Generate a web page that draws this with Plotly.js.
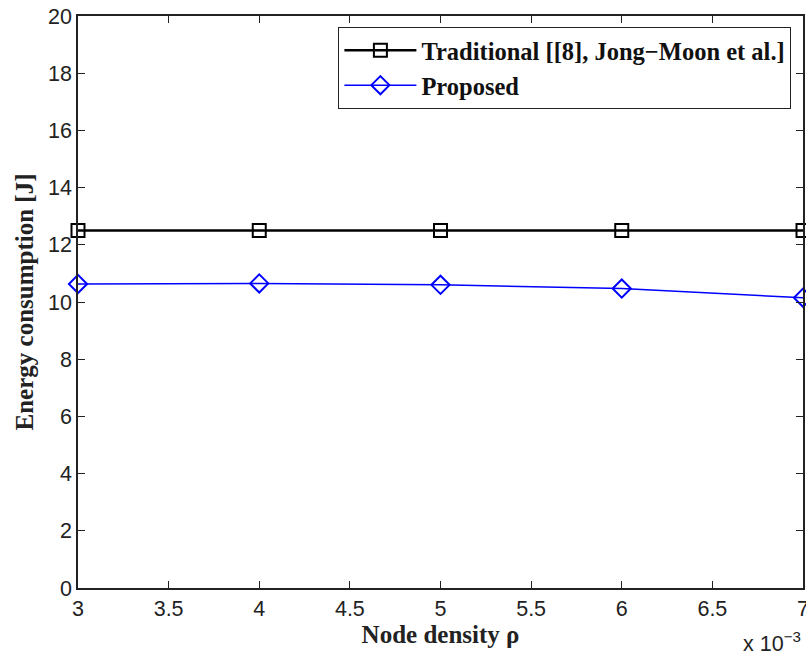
<!DOCTYPE html>
<html><head><meta charset="utf-8">
<script src="https://cdn.plot.ly/plotly-3.0.1.min.js"></script>
<style>body{margin:0;background:#fff}#chart{width:806px;height:657px}</style>
</head><body><div id="chart"></div>
<script>
const density = [3, 4, 5, 6, 7]; // x 10^-3
const traditional = [12.5, 12.5, 12.5, 12.5, 12.5];
const proposed = [10.63, 10.65, 10.6, 10.47, 10.15];
const names = ["Traditional [[8], Jong\u2212Moon et al.]", "Proposed"];

const traces = [
  {x: density, y: traditional, name: names[0], mode: 'lines+markers',
   line: {color: '#000', width: 2.5},
   marker: {symbol: 'square-open', size: 13, color: '#000', line: {width: 2}}, cliponaxis: false},
  {x: density, y: proposed, name: names[1], mode: 'lines+markers',
   line: {color: '#0000ff', width: 1.5},
   marker: {symbol: 'diamond-open', size: 14, color: '#0000ff', line: {width: 2}}, cliponaxis: false}
];
const tickFont = {family: 'Liberation Sans, Arial, sans-serif', size: 21.5, color: '#222'};
const titleFont = {family: 'Liberation Serif, Times New Roman, serif', size: 25, color: '#222', weight: 'bold'};
const layout = {
  width: 806, height: 657,
  margin: {l: 78, r: 3, t: 16, b: 69},
  paper_bgcolor: '#fff', plot_bgcolor: '#fff',
  showlegend: true,
  legend: {x: 0.984, y: 0.981, xanchor: 'right', yanchor: 'top', bordercolor: '#222', borderwidth: 1,
    bgcolor: '#fff', font: {family: 'Liberation Serif, Times New Roman, serif', size: 24.5, color: '#111', weight: 'bold'},
    tracegroupgap: 0, itemwidth: 72},
  xaxis: {range: [3, 7], tickvals: [3, 3.5, 4, 4.5, 5, 5.5, 6, 6.5, 7],
    ticktext: ['3', '3.5', '4', '4.5', '5', '5.5', '6', '6.5', '7'],
    ticklabeloverflow: 'allow',
    ticks: 'inside', ticklen: 7, tickcolor: '#222', showline: true, linecolor: '#222', linewidth: 1.5, mirror: 'ticks',
    showgrid: false, zeroline: false, tickfont: tickFont,
    title: {text: 'Node density \u03c1', font: titleFont, standoff: 4}},
  yaxis: {range: [0, 20], dtick: 2,
    ticks: 'inside', ticklen: 7, tickcolor: '#222', showline: true, linecolor: '#222', linewidth: 1.5, mirror: 'ticks',
    showgrid: false, zeroline: false, tickfont: tickFont,
    title: {text: 'Energy consumption [J]', font: titleFont, standoff: 7}},
  annotations: [{xref: 'paper', yref: 'paper', x: 1.0, y: -0.123, xanchor: 'right', yanchor: 'bottom',
    text: 'x 10<sup>\u22123</sup>', showarrow: false, font: tickFont}]
};
Plotly.newPlot('chart', traces, layout, {displayModeBar: false});
</script></body></html>
